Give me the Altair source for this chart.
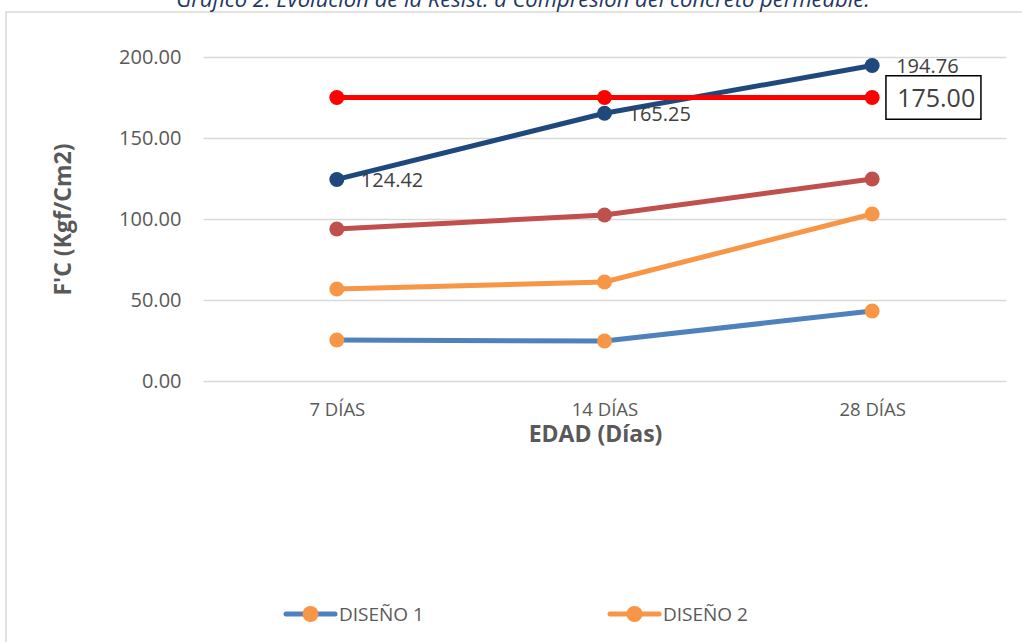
import altair as alt
import pandas as pd

# Ages of the test specimens (category axis)
edades = ["7 DÍAS", "14 DÍAS", "28 DÍAS"]

# Compressive strength per mix design, kgf/cm2
diseno_1 = [25.3, 24.7, 43.2]
diseno_2 = [56.8, 61.1, 103.1]
diseno_3 = [93.8, 102.5, 124.7]
diseno_4 = [124.42, 165.25, 194.76]
fc_diseno = [175.00, 175.00, 175.00]

series = ["DISEÑO 1", "DISEÑO 2", "DISEÑO 3", "DISEÑO 4", "F'C DISEÑO"]
valores = [diseno_1, diseno_2, diseno_3, diseno_4, fc_diseno]
line_colors = ["#4F81BD", "#F79646", "#C0504D", "#1F497D", "#FF0000"]
marker_colors = ["#F79646", "#F79646", "#C0504D", "#1F497D", "#FF0000"]

legend_names = ["DISEÑO 1", "DISEÑO 2"]

y_ticks = [0, 50, 100, 150, 200]
titulo = "Gráfico 2: Evolución de la Resist. a Compresión del concreto permeable."

FONT = "Open Sans"
TXT = "#595959"

rows = []
for name, vals in zip(series, valores):
    for e, v in zip(edades, vals):
        rows.append({"serie": name, "edad": e, "valor": v})
df = pd.DataFrame(rows)

x_enc = alt.X(
    "edad:N",
    sort=edades,
    scale=alt.Scale(type="point", padding=0.5),
    axis=alt.Axis(
        title="EDAD (Días)",
        labelAngle=0,
        ticks=False,
        tickSize=0,
        domain=False,
        grid=False,
        labelFont=FONT,
        labelFontSize=18.5,
        labelColor=TXT,
        labelPadding=19,
        titleFont=FONT,
        titleFontSize=23,
        titleFontWeight="bold",
        titleColor=TXT,
        titlePadding=5,
        titleX=392,
    ),
)
y_enc = alt.Y(
    "valor:Q",
    scale=alt.Scale(domain=[0, 200], nice=False),
    axis=alt.Axis(
        title="F'C (Kgf/Cm2)",
        values=y_ticks,
        format=".2f",
        ticks=False,
        tickSize=0,
        domain=False,
        grid=True,
        gridColor="#D9D9D9",
        gridWidth=1.5,
        labelFont=FONT,
        labelFontSize=20,
        labelColor=TXT,
        labelPadding=22,
        titleFont=FONT,
        titleFontSize=23,
        titleFontWeight="bold",
        titleColor=TXT,
        titlePadding=43,
    ),
)

layers = []
for name, lc, mc in zip(series, line_colors, marker_colors):
    sub = df[df["serie"] == name]
    base = alt.Chart(sub).encode(x=x_enc, y=y_enc)
    layers.append(base.mark_line(color=lc, strokeWidth=5))
    layers.append(base.mark_point(filled=True, color=mc, size=225, opacity=1))

# Value labels on the DISEÑO 4 series
lab = alt.Chart(df[df["serie"] == "DISEÑO 4"]).mark_text(
    align="left", baseline="middle", dx=24, dy=2, font=FONT, fontSize=20, color="#404040"
).encode(x=x_enc, y=y_enc, text=alt.Text("valor:Q", format=".2f"))
layers.append(lab)

# Boxed label for the design strength at 28 days
fc_last = df[(df["serie"] == "F'C DISEÑO") & (df["edad"] == "28 DÍAS")]
box_path = "M 0.29 -0.46 H 2.29 V 0.46 H 0.29 Z"
box = alt.Chart(fc_last).mark_point(
    shape=box_path, size=95 * 95, filled=False, stroke="black", strokeWidth=1.5, opacity=1
).encode(x=x_enc, y=y_enc)
fc_lab = alt.Chart(fc_last).mark_text(
    align="left", baseline="middle", dx=25, dy=1, font=FONT, fontSize=25, color="#404040"
).encode(x=x_enc, y=y_enc, text=alt.Text("valor:Q", format=".2f"))
layers += [box, fc_lab]

# Legend entries drawn by hand (line swatch with a marker in the middle)
leg_x = [83, 407]
for name, x0 in zip(legend_names, leg_x):
    i = series.index(name)
    d = pd.DataFrame({"serie": [name]})
    layers.append(
        alt.Chart(d).mark_rule(color=line_colors[i], strokeWidth=5, strokeCap="round").encode(
            x=alt.value(x0), x2=alt.value(x0 + 49), y=alt.value(557)
        )
    )
    layers.append(
        alt.Chart(d).mark_point(filled=True, color=marker_colors[i], size=256, opacity=1).encode(
            x=alt.value(x0 + 24.5), y=alt.value(557)
        )
    )
    layers.append(
        alt.Chart(d).mark_text(
            align="left", baseline="middle", font=FONT, fontSize=19, color=TXT
        ).encode(x=alt.value(x0 + 53), y=alt.value(558), text="serie:N")
    )

# Chart frame and title
frame_df = pd.DataFrame({"k": [0]})
layers.append(
    alt.Chart(frame_df).mark_rect(fill=None, stroke="#D9D9D9", strokeWidth=1.5).encode(
        x=alt.value(-197), x2=alt.value(840), y=alt.value(-45), y2=alt.value(640)
    )
)
layers.append(
    alt.Chart(pd.DataFrame({"t": [titulo]})).mark_text(
        align="center", baseline="alphabetic", font=FONT, fontSize=22,
        fontStyle="italic", color="#1F3864"
    ).encode(x=alt.value(320), y=alt.value(-50), text="t:N")
)

chart = alt.layer(*layers).properties(
    width=803,
    height=324,
    autosize=alt.AutoSizeParams(type="none"),
    padding={"left": 203, "top": 57, "right": 16, "bottom": 261},
    background="white",
).configure_view(stroke=None)

chart.save("out.html", embed_options={"renderer": "svg", "actions": False})
